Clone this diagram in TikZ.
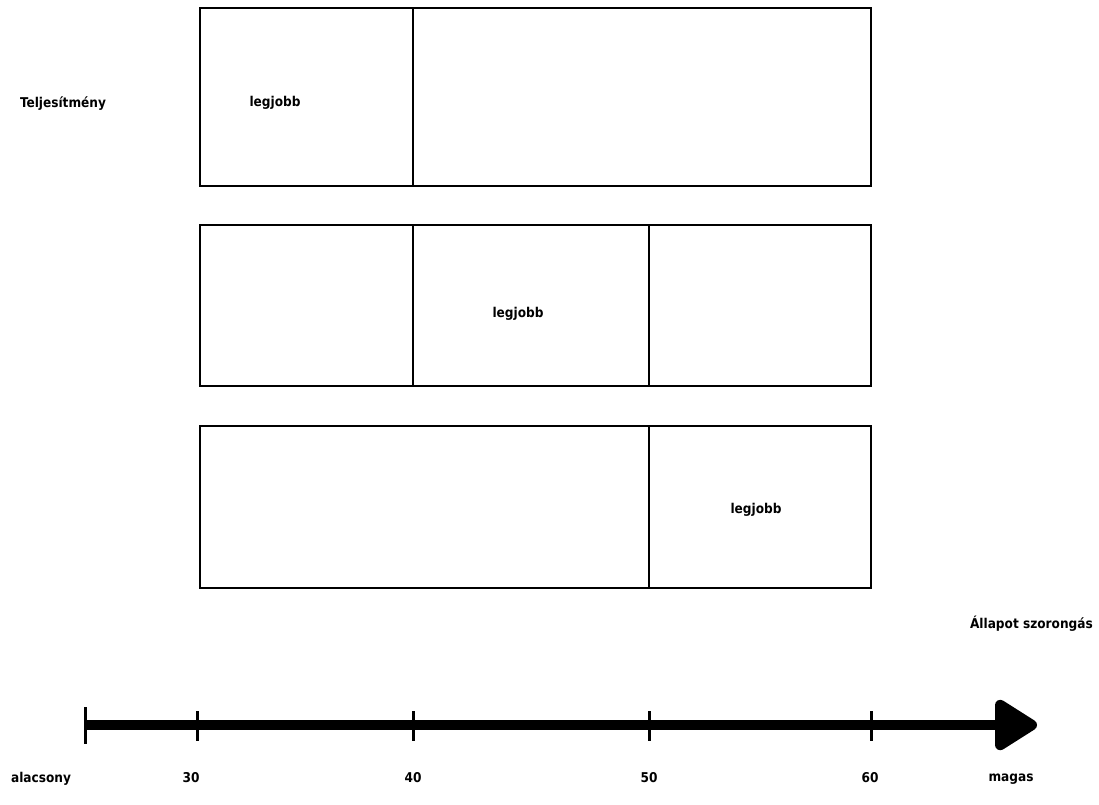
\documentclass[tikz,border=0pt]{standalone}
\usepackage{fontspec}
\setmainfont{DejaVu Sans Condensed}
\usetikzlibrary{arrows.meta}
\begin{document}
\begin{tikzpicture}[x=1pt,y=-1pt,
  box/.style={draw,line width=1.6pt},
  lab/.style={font=\bfseries\fontsize{13.5}{16}\selectfont,inner sep=0pt},
  tick/.style={line width=3pt}]
\useasboundingbox (0,0) rectangle (1099,804);
% boxes
\draw[box] (200,8) rectangle (871,186);
\draw[box] (200,225) rectangle (871,386);
\draw[box] (200,426) rectangle (871,588);
\coordinate (d1t) at (413,8); \coordinate (d1b) at (413,186);
\coordinate (d2t) at (413,225); \coordinate (d2b) at (413,386);
\coordinate (d3t) at (649,225); \coordinate (d3b) at (649,386);
\coordinate (d4t) at (649,426); \coordinate (d4b) at (649,588);
\draw[box] (d1t) -- (d1b);
\draw[box] (d2t) -- (d2b);
\draw[box] (d3t) -- (d3b);
\draw[box] (d4t) -- (d4b);
\node[lab] (best1) at (275,103) {legjobb};
\node[lab] (best2) at (518,314) {legjobb};
\node[lab] (best3) at (756,510) {legjobb};
\node[lab] (perf) at (63,104) {Teljesítmény};
% axis
\coordinate (a0) at (85,725);
\coordinate (a1) at (1037,725);
\draw[line width=10.5pt,-{Triangle[length=47pt,width=56pt,round]}] (a0) -- (a1);
\draw[tick] (85,707) -- (85,744);
\foreach \x in {197,413,649,871} \draw[tick] (\x,711) -- (\x,741);
\node[lab] (lo) at (41,779) {alacsony};
\node[lab] (t30) at (191,778) {30};
\node[lab] (t40) at (413,778) {40};
\node[lab] (t50) at (649,778) {50};
\node[lab] (t60) at (870,778) {60};
\node[lab] (hi) at (1011,779) {magas};
\node[lab,anchor=east] (anx) at (1093,624) {Állapot szorongás};
\end{tikzpicture}
\end{document}
